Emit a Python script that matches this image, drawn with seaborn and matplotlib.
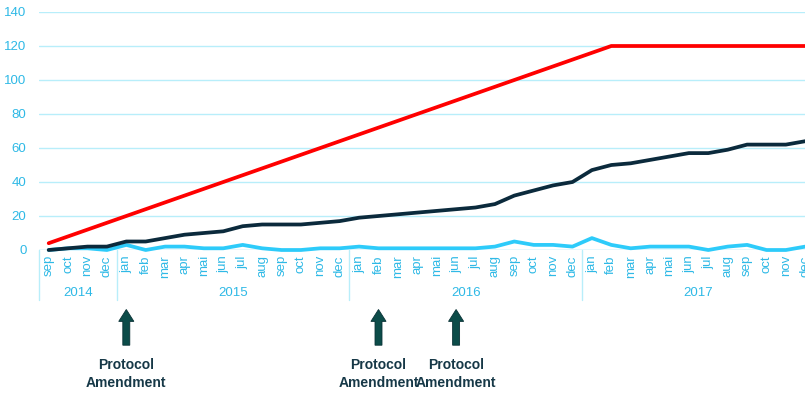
import matplotlib
matplotlib.use("Agg")
import matplotlib.pyplot as plt
import seaborn as sns
import pandas as pd
import numpy as np
from matplotlib.patches import FancyArrow

# Month labels (sep 2014 .. dec 2017)
months = (["sep", "oct", "nov", "dec"]
          + ["jan", "feb", "mar", "apr", "mai", "jun", "jul", "aug", "sep", "oct", "nov", "dec"] * 3)
years = ["2014", "2015", "2016", "2017"]
year_lengths = [4, 12, 12, 12]

# Planned cumulative inclusion
planned = [4, 8, 12, 16,
           20, 24, 28, 32, 36, 40, 44, 48, 52, 56, 60, 64,
           68, 72, 76, 80, 84, 88, 92, 96, 100, 104, 108, 112,
           116, 120, 120, 120, 120, 120, 120, 120, 120, 120, 120, 120]

# Actual cumulative inclusion
cumulative = [0, 1, 2, 2,
              5, 5, 7, 9, 10, 11, 14, 15, 15, 15, 16, 17,
              19, 20, 21, 22, 23, 24, 25, 27, 32, 35, 38, 40,
              47, 50, 51, 53, 55, 57, 57, 59, 62, 62, 62, 64]

# Inclusions per month
monthly = [0, 1, 1, 0,
           3, 0, 2, 2, 1, 1, 3, 1, 0, 0, 1, 1,
           2, 1, 1, 1, 1, 1, 1, 2, 5, 3, 3, 2,
           7, 3, 1, 2, 2, 2, 0, 2, 3, 0, 0, 2]

# Protocol amendments: (month index, label)
amendments = [(4, "Protocol\nAmendment"), (17, "Protocol\nAmendment"), (21, "Protocol\nAmendment")]

RED = "#FF0000"
NAVY = "#0B2A3C"
SKY = "#2DCBFA"
GRID = "#B8EEFA"
TICK = "#2EB9E6"
TEAL = "#0C4C49"
TEXT = "#163847"

n = len(months)
idx = np.arange(n)
df = pd.DataFrame({
    "month": np.tile(idx, 3),
    "value": planned + cumulative + monthly,
    "series": ["planned"] * n + ["cumulative"] * n + ["monthly"] * n,
})

sns.set_style("white")
plt.rcParams["font.family"] = ["Liberation Sans", "DejaVu Sans"]

fig = plt.figure(figsize=(8.05, 3.94), dpi=100)
W, H = 805, 394
x0_px, x1_px = 39, 815
y0_px, y1_px = 250, 12
ax = fig.add_axes([x0_px / W, 1 - y0_px / H, (x1_px - x0_px) / W, (y0_px - y1_px) / H])

sns.lineplot(data=df, x="month", y="value", hue="series",
             palette={"planned": RED, "cumulative": NAVY, "monthly": SKY},
             hue_order=["monthly", "cumulative", "planned"],
             linewidth=2.7, legend=False, ax=ax, clip_on=False)

ax.set_xlim(-0.5, n - 0.5)
ax.set_ylim(0, 140)
ax.set_yticks(range(0, 141, 20))
ax.tick_params(axis="y", colors=TICK, labelsize=9.5, length=0, pad=9)
ax.set_xticks([])
ax.set_xlabel("")
ax.set_ylabel("")
for s in ax.spines.values():
    s.set_visible(False)
ax.grid(axis="y", color=GRID, linewidth=1)
ax.set_axisbelow(True)
ax.axhline(0, color=GRID, linewidth=1, zorder=0.5)

# Month labels and year grouping below the axis
trans = ax.get_xaxis_transform()
for i, m in enumerate(months):
    ax.text(i, -0.022, m, transform=trans, rotation=90, ha="center", va="top",
            color=TICK, fontsize=9.5)

start = 0
bounds = [0]
for y, L in zip(years, year_lengths):
    ax.text(start + (L - 1) / 2, -0.18, y, transform=trans, ha="center", va="center",
            color=TICK, fontsize=9.5)
    start += L
    bounds.append(start)
for b in bounds[:-1]:
    ax.plot([b - 0.5, b - 0.5], [0, -0.21], transform=trans, color=GRID,
            linewidth=1, clip_on=False)

# Amendment arrows and labels
for i, label in amendments:
    ax.add_patch(FancyArrow(i, -0.40, 0, 0.15, width=0.36, head_width=0.78,
                            head_length=0.05, length_includes_head=True,
                            transform=trans, clip_on=False,
                            facecolor=TEAL, edgecolor="#0A3236", linewidth=0.6))
    ax.text(i, -0.52, label, transform=trans, ha="center", va="center",
            color=TEXT, fontsize=10, fontweight="bold", linespacing=1.35)

fig.savefig("out.png", dpi=100)
